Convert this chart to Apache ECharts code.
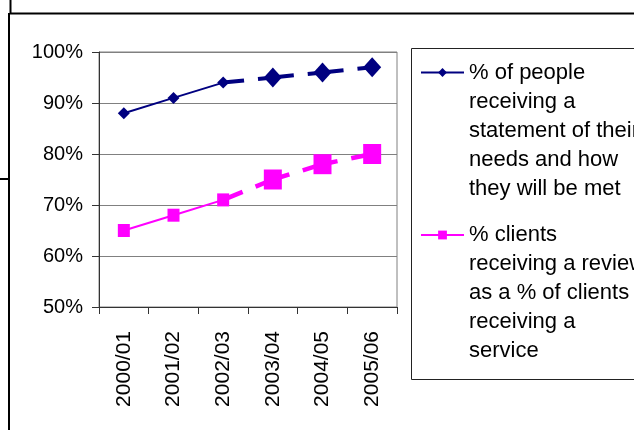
<!DOCTYPE html>
<html>
<head>
<meta charset="utf-8">
<script src="https://cdn.jsdelivr.net/npm/echarts@6/dist/echarts.min.js"></script>
<style>
  html, body { margin: 0; padding: 0; background: #fff; }
  #chart { width: 634px; height: 430px; }
</style>
</head>
<body>
<div id="chart"></div>
<script>
// Years reported
const categories = ['2000/01', '2001/02', '2002/03', '2003/04', '2004/05', '2005/06'];

// Percentages per year
const statementValues = [88, 91, 94, 95, 96, 97];
const reviewValues = [65, 68, 71, 75, 78, 80];

// Legend wording, one entry per visual line
const statementLines = ['% of people', 'receiving a', 'statement of their', 'needs and how', 'they will be met'];
const reviewLines = ['% clients', 'receiving a review', 'as a % of clients', 'receiving a', 'service'];

// Y axis ticks
const yTicks = [50, 60, 70, 80, 90, 100];

// Years up to this index are actuals (solid), later ones are targets (dashed)
const lastActual = 2;

const FONT = "'Liberation Sans', Arial, sans-serif";
const NAVY = '#000080';
const MAGENTA = '#FF00FF';
const LINE_H = 29;

const statementName = statementLines.join(' ');
const reviewName = reviewLines.join(' ');

const actualPart = vals => vals.map((v, i) => (i <= lastActual ? v : null));
const targetPart = vals => vals.map((v, i) => (i >= lastActual ? v : null));

const chart = echarts.init(document.getElementById('chart'), null, { renderer: 'canvas' });

function legendFor(name, lines, iconCenterY) {
  // Legend text is centred on its icon; leading blank lines push the
  // first real line level with the icon.
  const blanks = new Array(lines.length - 1).fill('');
  const total = blanks.length + lines.length;
  return {
    data: [name],
    left: 420,
    top: iconCenterY - (total * LINE_H) / 2,
    padding: 0,
    itemWidth: 43,
    itemHeight: 11,
    selectedMode: false,
    formatter: () => blanks.concat(lines).join('\n'),
    textStyle: {
      fontFamily: FONT,
      fontSize: 22,
      color: '#000',
      lineHeight: LINE_H
    }
  };
}

const targetDash = { type: [36, 14], dashOffset: 15 };

const option = {
  animation: false,
  grid: {
    left: 99, right: 237, top: 52, bottom: 123,
    show: true, borderColor: '#808080', borderWidth: 1, backgroundColor: 'transparent'
  },
  legend: [
    legendFor(statementName, statementLines, 72.5),
    legendFor(reviewName, reviewLines, 235)
  ],
  xAxis: {
    type: 'category',
    data: categories,
    boundaryGap: true,
    axisLine: { lineStyle: { color: '#333', width: 1 } },
    axisTick: { show: true, inside: false, length: 7, alignWithLabel: false, lineStyle: { color: '#333' } },
    axisLabel: {
      rotate: 90, margin: 24, interval: 0,
      fontFamily: FONT, fontSize: 21, color: '#000'
    },
    splitLine: { show: false }
  },
  yAxis: {
    type: 'value',
    min: yTicks[0],
    max: yTicks[yTicks.length - 1],
    interval: yTicks[1] - yTicks[0],
    axisLine: { show: true, lineStyle: { color: '#333', width: 1 } },
    axisTick: { show: true, inside: false, length: 7, lineStyle: { color: '#333' } },
    axisLabel: {
      margin: 16, fontFamily: FONT, fontSize: 20, color: '#000',
      formatter: v => v + '%'
    },
    splitLine: { show: true, lineStyle: { color: '#808080', width: 1 } }
  },
  series: [
    {
      name: statementName, type: 'line',
      data: actualPart(statementValues),
      symbol: 'diamond', symbolSize: [12, 12],
      lineStyle: { color: NAVY, width: 2 },
      itemStyle: { color: NAVY },
      z: 3
    },
    {
      name: statementName, type: 'line',
      data: targetPart(statementValues),
      symbol: 'diamond',
      symbolSize: (v, p) => (p.dataIndex === lastActual ? 0 : [18, 20]),
      lineStyle: Object.assign({ color: NAVY, width: 4 }, targetDash),
      itemStyle: { color: NAVY },
      z: 2
    },
    {
      name: reviewName, type: 'line',
      data: actualPart(reviewValues),
      symbol: 'rect', symbolSize: [12, 13],
      lineStyle: { color: MAGENTA, width: 2 },
      itemStyle: { color: MAGENTA },
      z: 3
    },
    {
      name: reviewName, type: 'line',
      data: targetPart(reviewValues),
      symbol: 'rect',
      symbolSize: (v, p) => (p.dataIndex === lastActual ? 0 : [18, 20]),
      lineStyle: Object.assign({ color: MAGENTA, width: 4.5 }, targetDash),
      itemStyle: { color: MAGENTA },
      z: 2
    }
  ],
  graphic: [
    // outer frame pieces around the chart object
    { type: 'line', shape: { x1: 10.5, y1: 0, x2: 10.5, y2: 13 }, style: { stroke: '#000', lineWidth: 2 } },
    { type: 'line', shape: { x1: 10, y1: 13.5, x2: 634, y2: 13.5 }, style: { stroke: '#000', lineWidth: 2 } },
    { type: 'line', shape: { x1: 9, y1: 13, x2: 9, y2: 430 }, style: { stroke: '#000', lineWidth: 2 } },
    { type: 'line', shape: { x1: 0, y1: 179, x2: 9, y2: 179 }, style: { stroke: '#000', lineWidth: 2 } },
    // legend frame
    { type: 'rect', shape: { x: 411.5, y: 48.5, width: 300, height: 331 }, style: { fill: 'none', stroke: '#222', lineWidth: 1 }, z: -1 }
  ]
};

chart.setOption(option);
</script>
</body>
</html>
